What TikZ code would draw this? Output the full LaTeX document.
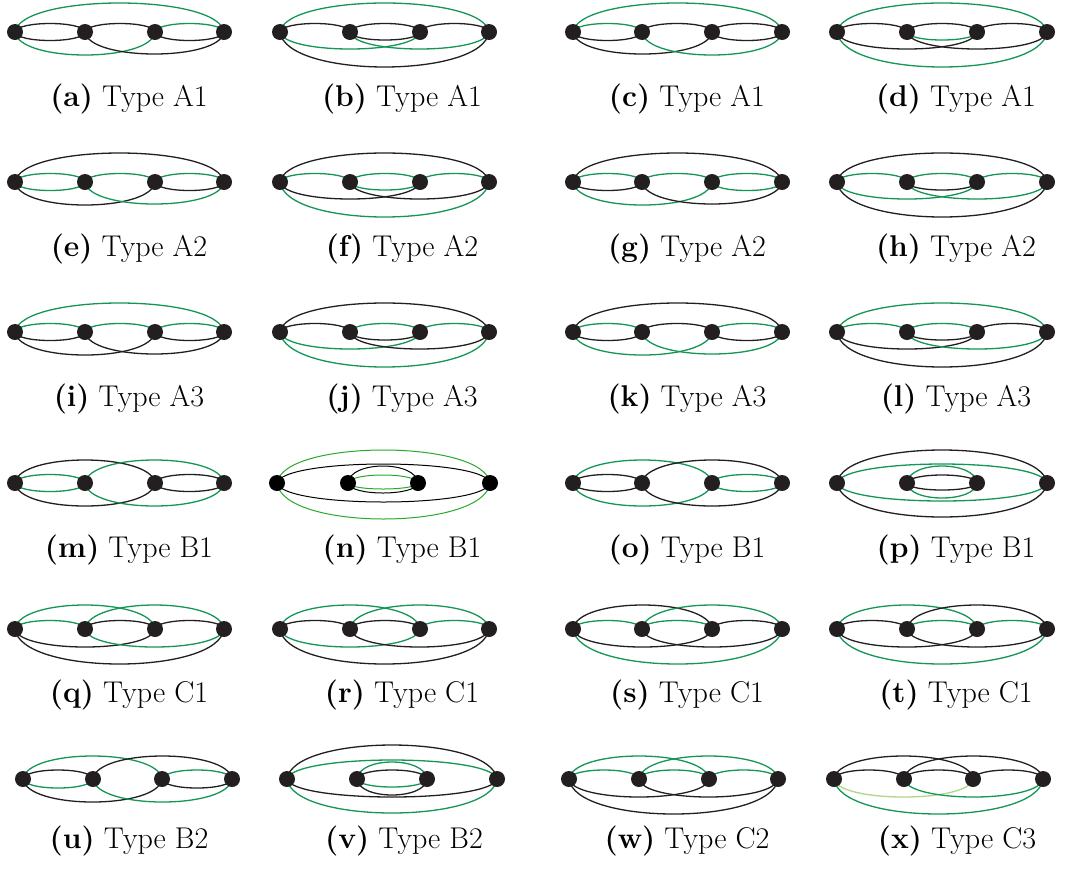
\documentclass[tikz,border=0pt]{standalone}
\usepackage{tikz}
\pgfdeclarelayer{edges}
\pgfsetlayers{edges,main}
\definecolor{ink}{RGB}{35,31,32}
\definecolor{grn}{RGB}{20,150,85}
\definecolor{grnb}{RGB}{40,170,40}
\definecolor{lgrn}{RGB}{175,215,135}
\tikzset{
 vtx/.style={circle,fill=ink,inner sep=0pt,minimum size=16pt},
 vtxb/.style={circle,fill=black,inner sep=0pt,minimum size=16pt},
 ek/.style={draw=ink,line width=1.3pt},
 eg/.style={draw=grn,line width=1.3pt},
 egb/.style={draw=grnb,line width=1pt},
 ekb/.style={draw=black,line width=1pt},
 elg/.style={draw=lgrn,line width=1.3pt},
 lab/.style={anchor=base,inner sep=0pt,font=\fontsize{30}{36}\selectfont},
}
% panel: style, name, y, x1..x4
\newcommand\pan[7][vtx]{%
 \node[#1] (#2-1) at (#4,-#3) {};
 \node[#1] (#2-2) at (#5,-#3) {};
 \node[#1] (#2-3) at (#6,-#3) {};
 \node[#1] (#2-4) at (#7,-#3) {};}
% edge: style, panel, i, j, peak height (positive = above)
\newcommand\ed[5]{\begin{pgfonlayer}{edges}\draw[#1] (#2-#3.center) .. controls +({2*(#4-#3)},{1.3333*(#5)}) and +({-2*(#4-#3)},{1.3333*(#5)}) .. (#2-#4.center);\end{pgfonlayer}}
\begin{document}
\begin{tikzpicture}[x=1pt,y=1pt]
\begin{pgfonlayer}{edges}
\fill[white] (0,0) rectangle (1078,-868);
\end{pgfonlayer}
\useasboundingbox (0,0) rectangle (1078,-868);
% ---------- row 1
\pan{a}{32}{15}{85}{155}{224}
\ed{eg}{a}14{29}\ed{ek}{a}12{8.5}\ed{ek}{a}12{-8.5}\ed{ek}{a}23{8.5}
\ed{eg}{a}34{8.5}\ed{ek}{a}34{-8.5}\ed{eg}{a}13{-23}\ed{ek}{a}24{-22}
\pan{b}{32}{280}{350}{420}{489}
\ed{eg}{b}14{29}\ed{ek}{b}12{8.5}\ed{ek}{b}23{8.5}\ed{ek}{b}34{8.5}
\ed{ek}{b}23{-8}\ed{eg}{b}13{-17}\ed{eg}{b}24{-17}\ed{ek}{b}14{-35}
\pan{c}{32}{573}{642}{712}{782}
\ed{eg}{c}14{29}\ed{eg}{c}12{8.5}\ed{ek}{c}12{-8.5}\ed{ek}{c}23{8.5}
\ed{ek}{c}34{8.5}\ed{ek}{c}34{-8.5}\ed{ek}{c}13{-22}\ed{eg}{c}24{-23}
\pan{d}{32}{837}{907}{977}{1047}
\ed{eg}{d}14{29}\ed{ek}{d}12{8.5}\ed{ek}{d}23{8.5}\ed{ek}{d}34{8.5}
\ed{eg}{d}23{-8}\ed{ek}{d}13{-17}\ed{ek}{d}24{-17}\ed{eg}{d}14{-35}
% ---------- row 2
\pan{e}{182}{15}{85}{155}{224}
\ed{ek}{e}14{29}\ed{eg}{e}12{8.5}\ed{eg}{e}12{-8.5}\ed{eg}{e}23{8.5}
\ed{eg}{e}34{8.5}\ed{ek}{e}34{-8.5}\ed{ek}{e}13{-23}\ed{eg}{e}24{-22}
\pan{f}{182}{280}{350}{420}{489}
\ed{ek}{f}14{29}\ed{eg}{f}12{8.5}\ed{eg}{f}23{8.5}\ed{eg}{f}34{8.5}
\ed{eg}{f}23{-8}\ed{ek}{f}13{-17}\ed{ek}{f}24{-17}\ed{eg}{f}14{-35}
\pan{g}{182}{573}{642}{712}{782}
\ed{ek}{g}14{29}\ed{eg}{g}12{8.5}\ed{ek}{g}12{-8.5}\ed{eg}{g}23{8.5}
\ed{eg}{g}34{8.5}\ed{eg}{g}34{-8.5}\ed{eg}{g}13{-23}\ed{ek}{g}24{-22}
\pan{h}{182}{837}{907}{977}{1047}
\ed{ek}{h}14{29}\ed{eg}{h}12{8.5}\ed{eg}{h}23{8.5}\ed{eg}{h}34{8.5}
\ed{ek}{h}23{-8}\ed{eg}{h}13{-17}\ed{eg}{h}24{-17}\ed{ek}{h}14{-35}
% ---------- row 3
\pan{i}{332}{15}{85}{155}{224}
\ed{eg}{i}14{29}\ed{eg}{i}12{8.5}\ed{ek}{i}12{-8.5}\ed{eg}{i}23{8.5}
\ed{eg}{i}34{8.5}\ed{ek}{i}34{-8.5}\ed{ek}{i}13{-23}\ed{ek}{i}24{-22}
\pan{j}{332}{280}{350}{420}{489}
\ed{ek}{j}14{29}\ed{ek}{j}12{8.5}\ed{eg}{j}23{8.5}\ed{eg}{j}34{8.5}
\ed{ek}{j}23{-8}\ed{eg}{j}13{-17}\ed{ek}{j}24{-17}\ed{eg}{j}14{-35}
\pan{k}{332}{573}{642}{712}{782}
\ed{ek}{k}14{29}\ed{eg}{k}12{8.5}\ed{ek}{k}12{-8.5}\ed{ek}{k}23{8.5}
\ed{eg}{k}34{8.5}\ed{ek}{k}34{-8.5}\ed{eg}{k}13{-23}\ed{eg}{k}24{-22}
\pan{l}{332}{837}{907}{977}{1047}
\ed{eg}{l}14{29}\ed{eg}{l}12{8.5}\ed{eg}{l}23{8.5}\ed{ek}{l}34{8.5}
\ed{ek}{l}23{-8}\ed{ek}{l}13{-17}\ed{eg}{l}24{-17}\ed{ek}{l}14{-35}
% ---------- row 4
\pan{m}{483}{15}{85}{155}{224}
\ed{ek}{m}13{23}\ed{eg}{m}24{23}\ed{eg}{m}12{8.5}\ed{eg}{m}12{-8.5}
\ed{ek}{m}34{8.5}\ed{ek}{m}34{-8.5}\ed{ek}{m}13{-23}\ed{eg}{m}24{-23}
\pan[vtxb]{n}{483}{277}{348}{418}{490}
\ed{egb}{n}14{33}\ed{ekb}{n}14{19}\ed{ekb}{n}23{17}\ed{egb}{n}23{8}
\ed{egb}{n}23{-6}\ed{ekb}{n}23{-10}\ed{ekb}{n}14{-19}\ed{egb}{n}14{-36}
\pan{o}{483}{573}{642}{712}{782}
\ed{eg}{o}13{23}\ed{ek}{o}24{23}\ed{ek}{o}12{8.5}\ed{ek}{o}12{-8.5}
\ed{eg}{o}34{8.5}\ed{eg}{o}34{-8.5}\ed{eg}{o}13{-23}\ed{ek}{o}24{-23}
\pan{p}{483}{837}{907}{977}{1047}
\ed{ek}{p}14{33}\ed{eg}{p}14{19}\ed{eg}{p}23{17}\ed{ek}{p}23{8}
\ed{ek}{p}23{-7}\ed{eg}{p}23{-15}\ed{eg}{p}14{-18}\ed{ek}{p}14{-34}
% ---------- row 5
\pan{q}{629}{15}{85}{155}{224}
\ed{eg}{q}13{24}\ed{eg}{q}24{24}\ed{eg}{q}12{8.5}\ed{ek}{q}23{8.5}
\ed{ek}{q}34{8.5}\ed{ek}{q}13{-18}\ed{eg}{q}24{-18}\ed{ek}{q}14{-35}
\pan{r}{629}{280}{350}{420}{489}
\ed{eg}{r}13{24}\ed{eg}{r}24{24}\ed{ek}{r}12{8.5}\ed{ek}{r}23{8.5}
\ed{eg}{r}34{8.5}\ed{eg}{r}13{-18}\ed{ek}{r}24{-18}\ed{ek}{r}14{-35}
\pan{s}{629}{573}{642}{712}{782}
\ed{ek}{s}13{24}\ed{eg}{s}24{24}\ed{eg}{s}12{8.5}\ed{eg}{s}23{8.5}
\ed{ek}{s}34{8.5}\ed{ek}{s}13{-18}\ed{ek}{s}24{-18}\ed{eg}{s}14{-35}
\pan{t}{629}{837}{907}{977}{1047}
\ed{eg}{t}13{24}\ed{ek}{t}24{24}\ed{ek}{t}12{8.5}\ed{eg}{t}23{8.5}
\ed{eg}{t}34{8.5}\ed{ek}{t}13{-18}\ed{ek}{t}24{-18}\ed{eg}{t}14{-35}
% ---------- row 6
\pan{u}{779}{23}{93}{162}{232}
\ed{eg}{u}13{23}\ed{ek}{u}24{23}\ed{ek}{u}12{9}\ed{eg}{u}12{-9}
\ed{eg}{u}34{9}\ed{ek}{u}34{-9}\ed{ek}{u}13{-23}\ed{eg}{u}24{-23}
\pan{v}{779}{287}{357}{427}{497}
\ed{ek}{v}14{34}\ed{eg}{v}14{19}\ed{eg}{v}23{17}\ed{ek}{v}23{9}
\ed{eg}{v}23{-8}\ed{ek}{v}23{-16}\ed{ek}{v}14{-18}\ed{eg}{v}14{-34}
\pan{w}{779}{569}{639}{709}{778}
\ed{eg}{w}13{23}\ed{eg}{w}24{23}\ed{eg}{w}12{9}\ed{eg}{w}23{9}
\ed{eg}{w}34{9}\ed{ek}{w}13{-18}\ed{ek}{w}24{-18}\ed{ek}{w}14{-35}
\pan{x}{779}{834}{904}{973}{1043}
\ed{ek}{x}13{23}\ed{ek}{x}24{23}\ed{ek}{x}12{9}\ed{ek}{x}23{9}
\ed{ek}{x}34{9}\ed{elg}{x}13{-18}\ed{eg}{x}24{-18}\ed{eg}{x}14{-35}
% ---------- labels
\node[lab] (La) at (129,-106) {\textbf{(a)}~Type A1};
\node[lab] (Lb) at (402,-106) {\textbf{(b)}~Type A1};
\node[lab] (Lc) at (687,-106) {\textbf{(c)}~Type A1};
\node[lab] (Ld) at (956,-106) {\textbf{(d)}~Type A1};
\node[lab] (Le) at (129,-256) {\textbf{(e)}~Type A2};
\node[lab] (Lf) at (402,-256) {\textbf{(f)}~Type A2};
\node[lab] (Lg) at (687,-256) {\textbf{(g)}~Type A2};
\node[lab] (Lh) at (956,-256) {\textbf{(h)}~Type A2};
\node[lab] (Li) at (129,-406) {\textbf{(i)}~Type A3};
\node[lab] (Lj) at (402,-406) {\textbf{(j)}~Type A3};
\node[lab] (Lk) at (687,-406) {\textbf{(k)}~Type A3};
\node[lab] (Ll) at (956,-406) {\textbf{(l)}~Type A3};
\node[lab] (Lm) at (129,-557) {\textbf{(m)}~Type B1};
\node[lab] (Ln) at (402,-557) {\textbf{(n)}~Type B1};
\node[lab] (Lo) at (687,-557) {\textbf{(o)}~Type B1};
\node[lab] (Lp) at (956,-557) {\textbf{(p)}~Type B1};
\node[lab] (Lq) at (129,-702) {\textbf{(q)}~Type C1};
\node[lab] (Lr) at (402,-702) {\textbf{(r)}~Type C1};
\node[lab] (Ls) at (687,-702) {\textbf{(s)}~Type C1};
\node[lab] (Lt) at (956,-702) {\textbf{(t)}~Type C1};
\node[lab] (Lu) at (129,-848) {\textbf{(u)}~Type B2};
\node[lab] (Lv) at (404,-848) {\textbf{(v)}~Type B2};
\node[lab] (Lw) at (687,-848) {\textbf{(w)}~Type C2};
\node[lab] (Lx) at (957,-848) {\textbf{(x)}~Type C3};
\end{tikzpicture}
\end{document}
